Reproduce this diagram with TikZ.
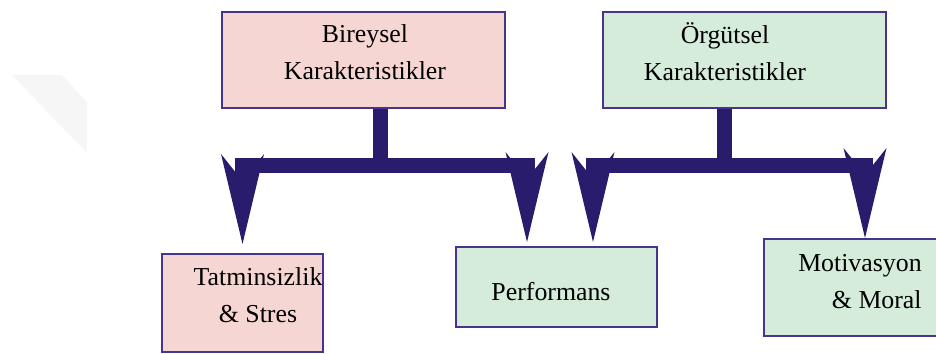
\documentclass[tikz,border=0pt]{standalone}
\usepackage{fontspec}
\setmainfont{Liberation Serif}
\usepackage{tikz}
\usetikzlibrary{arrows.meta}
\definecolor{boxline}{RGB}{72,52,140}
\definecolor{pinkfill}{RGB}{246,214,210}
\definecolor{greenfill}{RGB}{214,236,218}
\definecolor{arrowblue}{RGB}{42,28,108}
\tikzset{mybox/.style={draw=boxline,line width=0.04cm,inner sep=0pt},
mytext/.style={inner sep=0pt,align=center,font=\fontsize{14.7}{21}\selectfont},
myconn/.style={arrowblue,line width=0.3cm,-{Stealth[length=1.8cm,width=0.86cm,inset=0.54cm,line width=0pt]}}}

\begin{document}
\begin{tikzpicture}[x=0.02cm,y=-0.02cm]
\useasboundingbox (0,0) rectangle (936,354);
\clip (0,0) rectangle (936,354);
\fill[gray!7] (12,75) -- (62,75) -- (87,102) -- (87,153) -- cycle;
\node[mybox,fill=pinkfill,minimum width=5.66cm,minimum height=1.92cm] (bir) at (363.5,60) {};
\node[mybox,fill=greenfill,minimum width=5.66cm,minimum height=1.92cm] (org) at (744.5,60) {};
\node[mybox,fill=pinkfill,minimum width=3.22cm,minimum height=1.96cm] (tat) at (242.5,303) {};
\node[mybox,fill=greenfill,minimum width=4.02cm,minimum height=1.6cm] (perf) at (556.5,287) {};
\node[mybox,fill=greenfill,minimum width=3.92cm,minimum height=1.94cm] (mot) at (862,287.5) {};
\node[mytext] (birtxt) at (365,52) {Bireysel\\Karakteristikler};
\node[mytext] (orgtxt) at (725,52) {Örgütsel\\Karakteristikler};
\node[mytext] (tattxt) at (258,295.5) {Tatminsizlik\\\& Stres};
\node[mytext] (perftxt) at (551,292) {Performans};
\node[mytext,align=right,anchor=east] (mottxt) at (922,281.5) {Motivasyon\\\& Moral};
\coordinate (bstem) at ([xshift=0.33cm]bir.south);
\coordinate (ostem) at ([xshift=-0.41cm]org.south);
\coordinate (t1) at ([yshift=0.18cm]tat.north);
\coordinate (t2) at ([xshift=-0.59cm,yshift=0.08cm]perf.north);
\coordinate (t3) at ([xshift=0.73cm,yshift=0.08cm]perf.north);
\coordinate (t4) at ([xshift=0.06cm]mot.north);
\foreach \s/\t in {bstem/t1,bstem/t2,ostem/t3,ostem/t4}
\draw[myconn] (\s) -- ++(0,57) -| (\t);
\end{tikzpicture}
\end{document}
